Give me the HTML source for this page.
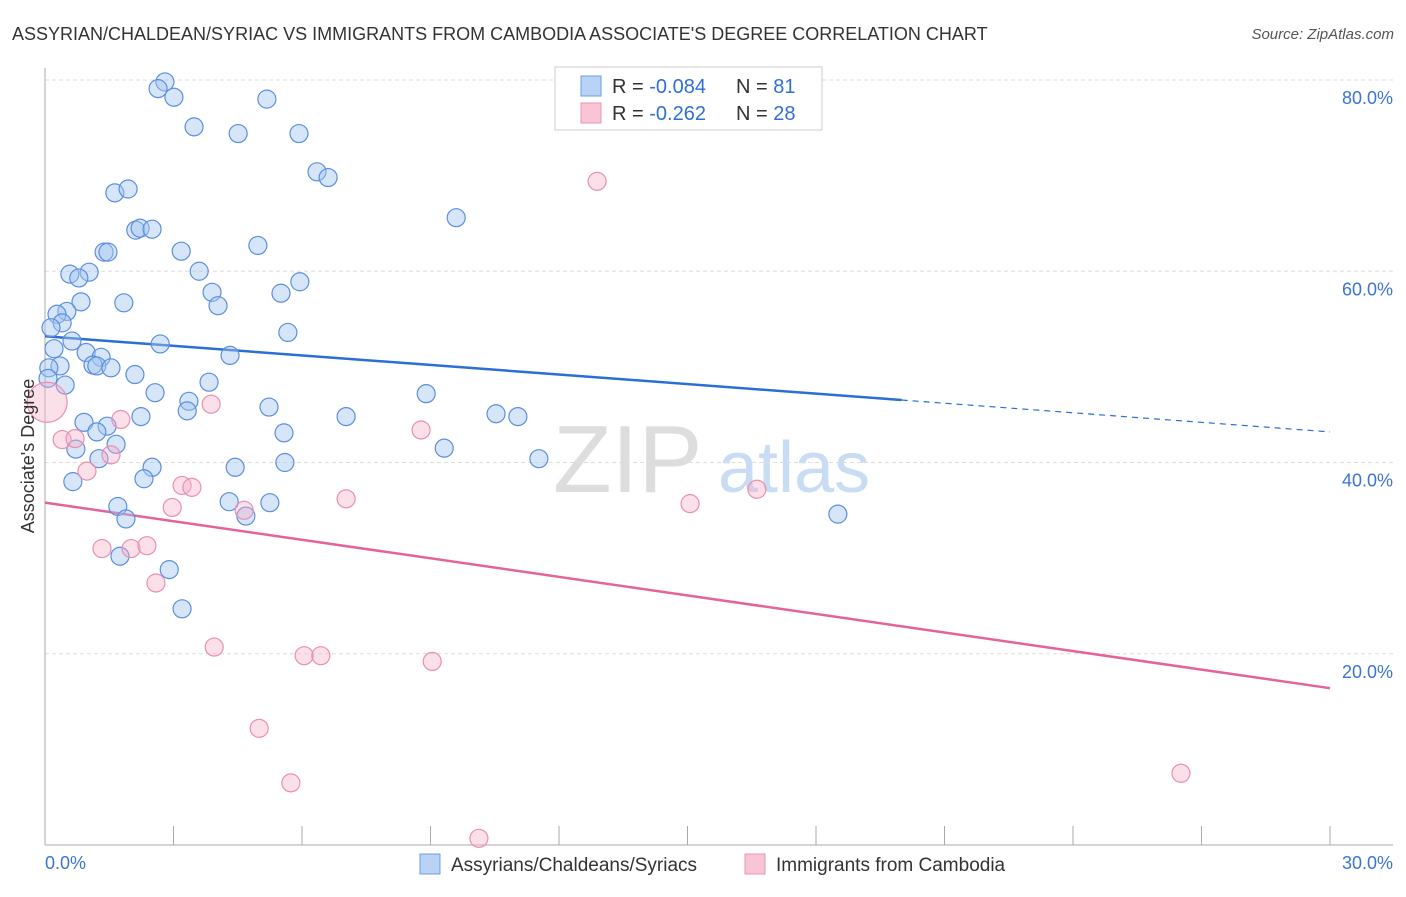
<!DOCTYPE html>
<html><head><meta charset="utf-8"><style>
body{margin:0;background:#fff;font-family:"Liberation Sans",sans-serif}
svg text{font-family:"Liberation Sans",sans-serif}
</style></head><body>
<svg id="chart" width="1406" height="892" viewBox="0 0 1406 892">
<text x="12" y="40" font-size="18" fill="#333">ASSYRIAN/CHALDEAN/SYRIAC VS IMMIGRANTS FROM CAMBODIA ASSOCIATE'S DEGREE CORRELATION CHART</text>
<text x="1394" y="39" font-size="15" fill="#555" text-anchor="end" font-style="italic">Source: ZipAtlas.com</text>
<g>
<text x="553" y="492" font-size="96" fill="#ddd" font-family="Liberation Serif">ZIP</text>
<text x="718" y="492" font-size="72" fill="#c8dcf4">atlas</text>
</g>
<g id="grid"></g>
<g id="axes"></g>
<g id="trends"></g>
<g id="points"></g>
<text transform="translate(34,456) rotate(-90)" font-size="18" fill="#333" text-anchor="middle">Associate's Degree</text>
<g>
<rect x="555" y="67" width="267" height="63" fill="#fff" stroke="#ccc"/>
<rect x="581" y="76" width="20" height="20" fill="#b8d3f5" stroke="#6d9de0"/>
<rect x="581" y="103" width="20" height="20" fill="#f9c5d6" stroke="#e995b2"/>
<text x="612" y="93" font-size="20" fill="#333">R = <tspan fill="#2f6fd6">-0.084</tspan></text>
<text x="736" y="93" font-size="20" fill="#333">N = <tspan fill="#2f6fd6"> 81</tspan></text>
<text x="612" y="120" font-size="20" fill="#333">R = <tspan fill="#2f6fd6"> -0.262</tspan></text>
<text x="736" y="120" font-size="20" fill="#333">N = <tspan fill="#2f6fd6">28</tspan></text>
</g>
<g>
<rect x="420" y="854" width="20" height="20" fill="#b8d3f5" stroke="#6d9de0"/>
<text x="451" y="871" font-size="19" fill="#333">Assyrians/Chaldeans/Syriacs</text>
<rect x="745" y="854" width="20" height="20" fill="#f9c5d6" stroke="#e995b2"/>
<text x="776" y="871" font-size="19" fill="#333">Immigrants from Cambodia</text>
</g>
</svg>
<script>
const yTicks=[20,40,60,80];
const xTickLabels=["0.0%","30.0%"];
const blueX=[2.80,2.64,3.01,5.18,3.48,4.51,5.93,6.35,6.61,1.63,1.94,9.60,2.12,2.22,2.50,1.38,1.47,3.18,4.97,0.58,1.03,0.79,3.60,5.95,3.90,5.51,1.84,0.84,4.04,0.51,0.28,0.40,0.14,5.67,0.63,2.69,0.21,0.96,1.31,4.32,1.12,1.21,0.35,1.54,2.10,0.09,0.07,0.47,3.83,2.57,8.90,3.36,3.32,5.23,7.03,10.53,11.04,2.24,0.91,1.45,1.21,5.58,1.66,0.72,9.32,1.26,2.50,4.44,5.60,11.53,2.31,0.65,4.30,5.25,1.70,1.89,4.69,18.51,1.75,2.90,3.20];
const blueY=[79.8,79.1,78.2,78.0,75.1,74.4,74.4,70.4,69.8,68.2,68.6,65.6,64.3,64.5,64.4,62.0,62.0,62.1,62.7,59.7,59.9,59.3,60.0,58.9,57.8,57.7,56.7,56.8,56.4,55.8,55.5,54.6,54.1,53.6,52.7,52.4,51.9,51.5,51.0,51.2,50.2,50.1,50.1,49.9,49.2,49.9,48.8,48.1,48.4,47.3,47.2,46.4,45.4,45.8,44.8,45.1,44.8,44.8,44.2,43.8,43.2,43.1,41.9,41.4,41.5,40.4,39.5,39.5,40.0,40.4,38.3,38.0,35.9,35.8,35.4,34.1,34.4,34.6,30.2,28.8,24.7];
const pinkX=[0.05,0.40,0.70,0.98,1.77,1.54,3.88,3.20,3.43,2.97,1.33,2.01,2.38,2.59,3.95,4.65,7.03,8.78,12.89,15.06,16.62,6.05,6.44,9.04,5.00,5.74,10.13,26.52];
const pinkY=[46.3,42.4,42.5,39.1,44.5,40.8,46.1,37.6,37.4,35.3,31.0,31.0,31.3,27.4,20.7,35.0,36.2,43.4,69.4,35.7,37.2,19.8,19.8,19.2,12.2,6.5,0.7,7.5];
const pinkSize=[20,9,9,9,9,9,9,9,9,9,9,9,9,9,9,9,9,9,9,9,9,9,9,9,9,9,9,9];
const blueTrend=[53.2,43.2];
const pinkTrend=[35.8,16.4];
const blueSolidEnd=20;

const X0=45,X1=1330,Y0=845,Y80=80;
const sx=v=>X0+(X1-X0)*v/30;
const sy=v=>Y0-(Y0-Y80)*v/80;
const NS="http://www.w3.org/2000/svg";
function mk(tag,attrs,parent){const e=document.createElementNS(NS,tag);for(const k in attrs)e.setAttribute(k,attrs[k]);parent.appendChild(e);return e;}
const grid=document.getElementById('grid'),axes=document.getElementById('axes'),trends=document.getElementById('trends'),pts=document.getElementById('points');
yTicks.forEach(t=>{
 const l=mk('line',{x1:X0,x2:1393,y1:sy(t),y2:sy(t),stroke:'#ddd','stroke-dasharray':'4,3'},grid);
 
 
 const tx=mk('text',{x:1393,y:sy(t)+24,'font-size':18,fill:'#3a74d4','text-anchor':'end'},grid);
 tx.textContent=t.toFixed(1)+'%';
 
 
});
const ya=mk('line',{x1:X0,x2:X0,y1:68,y2:Y0,stroke:'#aaa'},axes);


const xa=mk('line',{x1:X0,x2:1393,y1:Y0,y2:Y0,stroke:'#aaa'},axes);


for(let i=0;i<=10;i++){
 const t=mk('line',{x1:sx(i*3),x2:sx(i*3),y1:826,y2:Y0,stroke:'#aaa'},axes);
 
 
}
[[0,'start',xTickLabels[0]],[30,'end',xTickLabels[1]]].forEach(([v,a,s])=>{
 const t=mk('text',{x:v===0?sx(v):1393,y:869,'font-size':18,fill:'#3a74d4','text-anchor':a},axes);
 t.textContent=s;
 
 
});
const bm=blueTrend[0]+(blueTrend[1]-blueTrend[0])*blueSolidEnd/30;
const b1=mk('line',{x1:sx(0),y1:sy(blueTrend[0]),x2:sx(blueSolidEnd),y2:sy(bm),stroke:'#2a6ed6','stroke-width':2.5},trends);


const b2=mk('line',{x1:sx(blueSolidEnd),y1:sy(bm),x2:sx(30),y2:sy(blueTrend[1]),stroke:'#2a6ed6','stroke-width':1.2,'stroke-dasharray':'6,5'},trends);


const p1=mk('line',{x1:sx(0),y1:sy(pinkTrend[0]),x2:sx(30),y2:sy(pinkTrend[1]),stroke:'#e4649a','stroke-width':2.5},trends);


blueX.forEach((x,i)=>{
 const c=mk('circle',{cx:sx(x),cy:sy(blueY[i]),r:9,fill:'rgba(165,198,240,0.45)',stroke:'#5b8fe0','stroke-width':1.2},pts);
 
 
});
pinkX.forEach((x,i)=>{
 const c=mk('circle',{cx:sx(x),cy:sy(pinkY[i]),r:pinkSize[i],fill:'rgba(246,175,200,0.4)',stroke:'#ea8fb0','stroke-width':1.2},pts);
 
 
});
</script>
</body></html>
